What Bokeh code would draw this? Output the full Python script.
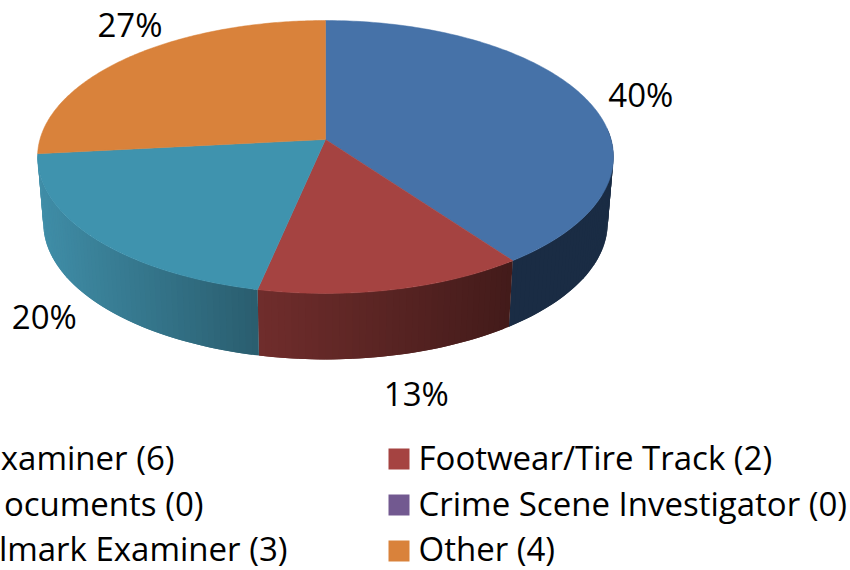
import numpy as np
from bokeh.embed import file_html
from bokeh.models import Range1d
from bokeh.plotting import figure
from bokeh.resources import INLINE
from bokeh.core.properties import value

# Data (the left legend column is cut by the picture's edge)
categories = ["xaminer", "Footwear/Tire Track", "ocuments",
              "Crime Scene Investigator", "lmark Examiner", "Other"]
counts = [6, 2, 0, 0, 3, 4]
top_colors = ["#4672A8", "#A54341", "#8FAE4B", "#725990", "#3F93AE", "#D9823B"]
wall_colors = [(26, 44, 68), (165, 67, 65), (143, 174, 75), (114, 89, 144), (64, 142, 168), (217, 130, 59)]

# Style / layout of the drawing
CX, CY = 325.0, 156.0
RX, RY_A, RY_B, PERSP = 285.6, 136.4, -17.0, -0.128
DEPTH, BOTTOM_SCALE = 66.0, 0.98
label_offsets = [(54, -5), (23, 104), (0, 0), (0, 0), (-49, 79), (0, -32)]
legend_rows = [0, 0, 1, 1, 2, 2]
FONT = "Open Sans"
FS = "33px"


def project(theta):
    u, v = np.sin(theta), -np.cos(theta)
    w = 1 + PERSP * v
    return RX * u / w, (RY_A * v + RY_B) / w


def wall_shade(x):
    return np.interp(x, [37, 257, 258, 510, 511, 613], [1.0, 0.66, 0.68, 0.41, 1.0, 1.0])


p = figure(width=850, height=570, output_backend="svg", toolbar_location=None,
           x_range=Range1d(0, 850), y_range=Range1d(570, 0), min_border=0,
           outline_line_color=None, background_fill_color="white", border_fill_color="white")
p.axis.visible = False
p.grid.visible = False

total = sum(counts)
edges = np.cumsum([0] + counts) / total * 2 * np.pi

# side wall, front half only
for i in range(len(counts)):
    a0, a1 = max(edges[i], np.radians(85)), min(edges[i + 1], np.radians(264))
    if a1 - a0 < 0.01:
        continue
    ts = np.linspace(a0, a1, int((a1 - a0) / np.radians(1.2)) + 2)
    xs, ys, cs = [], [], []
    for j, (t0, t1) in enumerate(zip(ts[:-1], ts[1:])):
        t2 = ts[min(j + 2, len(ts) - 1)]
        (x0, y0), (x1, y1) = project(t0), project(t2)
        xs.append([CX + x0, CX + x1, CX + BOTTOM_SCALE * x1, CX + BOTTOM_SCALE * x0])
        ys.append([CY + y0, CY + y1, CY + y1 + DEPTH, CY + y0 + DEPTH])
        xm = project((t0 + t1) / 2)[0]
        f = wall_shade(CX + xm)
        r, g, b = wall_colors[i]
        cs.append("#%02x%02x%02x" % (int(r * f), int(g * f), int(b * f)))
    p.patches(xs, ys, fill_color=cs, line_color=None)

# top surface
for i in range(len(counts)):
    if counts[i] == 0:
        continue
    ts = np.linspace(edges[i], edges[i + 1], 160)
    x, y = project(ts)
    p.patch(np.r_[CX, CX + x], np.r_[CY + RY_B, CY + y],
            fill_color=top_colors[i], line_color=top_colors[i], line_width=0.5)

# percentage labels
for i in range(len(counts)):
    if counts[i] == 0:
        continue
    mid = (edges[i] + edges[i + 1]) / 2
    x, y = project(mid)
    dx, dy = label_offsets[i]
    p.text([CX + x + dx], [CY + y + dy], text=[f"{round(100 * counts[i] / total)}%"],
           text_font=value(FONT), text_font_size=FS, text_align="center",
           text_baseline="middle", text_color="#000000")

# legend
row_y = [456.5, 502.5, 547.5]
swatch_y = [458.5, 504.5, 550.5]
col_right_end = {0: 174, 2: 203, 4: 287}
for i, (cat, n) in enumerate(zip(categories, counts)):
    y = row_y[legend_rows[i]]
    if i % 2:
        p.rect([398.5], [swatch_y[legend_rows[i]]], width=21, height=21, fill_color=top_colors[i], line_color=None)
        p.text([418], [y], text=[f"{cat} ({n})"], text_font=value(FONT), text_font_size=FS,
               text_align="left", text_baseline="middle", text_color="#000000")
    else:
        p.text([col_right_end[i]], [y], text=[f"{cat} ({n})"], text_font=value(FONT), text_font_size=FS,
               text_align="right", text_baseline="middle", text_color="#000000")

open("out.html", "w").write(file_html(p, INLINE))
